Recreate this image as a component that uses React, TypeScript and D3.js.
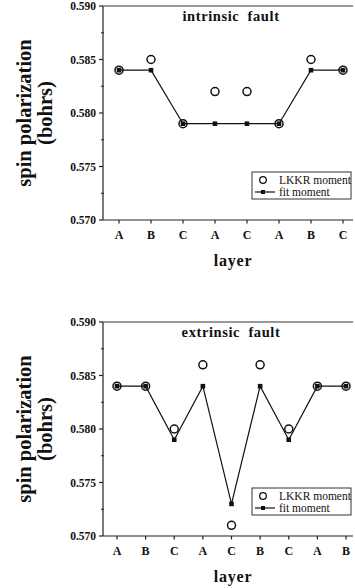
import React from 'react';
import * as d3 from 'd3';

const intrinsicLayers = ['A', 'B', 'C', 'A', 'C', 'A', 'B', 'C'];
const intrinsicLkkr = [0.584, 0.585, 0.579, 0.582, 0.582, 0.579, 0.585, 0.584];
const intrinsicFit = [0.584, 0.584, 0.579, 0.579, 0.579, 0.579, 0.584, 0.584];

const extrinsicLayers = ['A', 'B', 'C', 'A', 'C', 'B', 'C', 'A', 'B'];
const extrinsicLkkr = [0.584, 0.584, 0.58, 0.586, 0.571, 0.586, 0.58, 0.584, 0.584];
const extrinsicFit = [0.584, 0.584, 0.579, 0.584, 0.573, 0.584, 0.579, 0.584, 0.584];

const yTicks = [0.57, 0.575, 0.58, 0.585, 0.59];
const yMinorTicks = [0.5725, 0.5775, 0.5825, 0.5875];

const FONT = '"Liberation Serif", "Times New Roman", serif';

interface PanelProps {
  top: number;
  title: string;
  layers: string[];
  lkkr: number[];
  fit: number[];
  xRange: [number, number];
  legendY: number;
}

function Panel({ top, title, layers, lkkr, fit, xRange, legendY }: PanelProps) {
  const left = 103;
  const right = 353;
  const plotTop = top + 6;
  const plotBottom = top + 220;

  const y = d3.scaleLinear().domain([0.57, 0.59]).range([plotBottom, plotTop]);
  const idx = layers.map((_, i) => i);
  const x = d3.scalePoint<number>().domain(idx).range(xRange);

  const line = d3.line<number>()
    .x((_, i) => x(i)!)
    .y(d => y(d));

  const labelCenter = (plotTop + plotBottom) / 2;

  return (
    <g fontFamily={FONT} fill="#111">
      {/* axes */}
      <line x1={left} x2={left} y1={plotTop} y2={plotBottom} stroke="#222" strokeWidth={1.2} />
      <line x1={left} x2={right} y1={plotBottom} y2={plotBottom} stroke="#222" strokeWidth={1.2} />
      <line x1={left} x2={right} y1={plotTop} y2={plotTop} stroke="#333" strokeWidth={1} />

      {yTicks.map(t => (
        <g key={t}>
          <line x1={left - 4} x2={left} y1={y(t)} y2={y(t)} stroke="#222" strokeWidth={1.2} />
          <text x={left - 7} y={y(t)} dy="0.35em" textAnchor="end" fontSize={11.5} fontWeight="bold">
            {d3.format('.3f')(t)}
          </text>
        </g>
      ))}
      {yMinorTicks.map(t => (
        <line key={t} x1={left - 2} x2={left + 1} y1={y(t)} y2={y(t)} stroke="#222" strokeWidth={1} />
      ))}

      {idx.map(i => (
        <g key={i}>
          <line x1={x(i)} x2={x(i)} y1={plotBottom} y2={plotBottom + 3.5} stroke="#222" strokeWidth={1.2} />
          <text x={x(i)} y={plotBottom + 19} textAnchor="middle" fontSize={12} fontWeight="bold">
            {layers[i]}
          </text>
        </g>
      ))}

      <text x={231} y={top + 16} dy="0.35em" textAnchor="middle" fontSize={14.5} fontWeight="bold"
        letterSpacing={0.6} wordSpacing={4}>
        {title}
      </text>

      <text x={233} y={plotBottom + 46} textAnchor="middle" fontSize={16} fontWeight="bold" letterSpacing={0.8}>
        layer
      </text>

      <text transform={`translate(31,${labelCenter}) rotate(-90)`} textAnchor="middle" fontSize={20.5} fontWeight="bold">
        spin polarization
      </text>
      <text transform={`translate(52,${labelCenter}) rotate(-90)`} textAnchor="middle" fontSize={20.5} fontWeight="bold">
        (bohrs)
      </text>

      {/* fit line */}
      <path d={line(fit) ?? ''} fill="none" stroke="#111" strokeWidth={1.2} />
      {fit.map((v, i) => (
        <rect key={i} x={x(i)! - 2.3} y={y(v) - 2.3} width={4.6} height={4.6} fill="#111" />
      ))}
      {lkkr.map((v, i) => (
        <circle key={i} cx={x(i)} cy={y(v)} r={4} fill="none" stroke="#111" strokeWidth={1.5} />
      ))}

      {/* legend */}
      <rect x={252} y={legendY} width={99} height={27} fill="white" stroke="#333" strokeWidth={1} />
      <circle cx={263} cy={legendY + 8} r={3.3} fill="none" stroke="#111" strokeWidth={1.3} />
      <text x={279} y={legendY + 8} dy="0.35em" fontSize={11.5}>LKKR moment</text>
      <line x1={255} x2={275} y1={legendY + 20} y2={legendY + 20} stroke="#111" strokeWidth={1.2} />
      <rect x={261} y={legendY + 18} width={4} height={4} fill="#111" />
      <text x={279} y={legendY + 20} dy="0.35em" fontSize={11.5}>fit moment</text>
    </g>
  );
}

export default function App() {
  return (
    <div style={{ position: 'absolute', left: 0, top: 0 }}>
      <svg width={355} height={588} style={{ display: 'block', background: 'white' }}>
        <Panel
          top={0}
          title="intrinsic fault"
          layers={intrinsicLayers}
          lkkr={intrinsicLkkr}
          fit={intrinsicFit}
          xRange={[119, 343]}
          legendY={172}
        />
        <Panel
          top={316}
          title="extrinsic fault"
          layers={extrinsicLayers}
          lkkr={extrinsicLkkr}
          fit={extrinsicFit}
          xRange={[117, 346]}
          legendY={488}
        />
      </svg>
    </div>
  );
}
